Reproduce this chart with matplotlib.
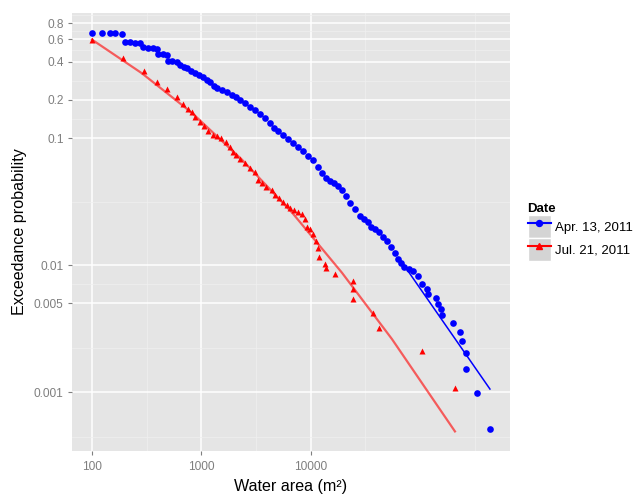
import matplotlib
matplotlib.use("Agg")
import matplotlib.pyplot as plt
from matplotlib.legend_handler import HandlerLine2D
from matplotlib.patches import Rectangle
from matplotlib.lines import Line2D

plt.rcParams["font.family"] = ["Liberation Sans", "DejaVu Sans"]

## -- data (water area in m2, exceedance probability)
apr_area = [100, 123.5, 146, 162, 188, 200, 223, 247, 275, 293, 325, 362, 393, 402, 446,
            486, 496, 540, 600, 639, 695, 740, 805, 876, 953, 1036, 1127, 1201, 1307, 1392,
            1547, 1719, 1910, 2078, 2260, 2511, 2790, 3100, 3444, 3827, 4252, 4626, 5032, 5591,
            6212, 6902, 7669, 8521, 9467, 10520, 11690, 12710, 13830, 15050, 16370, 17810,
            19370, 21070, 22930, 25480, 28310, 30800, 33500, 35690, 38830, 42240, 45950, 50000,
            54400, 59180, 63040, 67140, 71540, 79470, 86460, 96070, 104500, 116100, 118600,
            140400, 146400, 156000, 159400, 200900, 232700, 242700, 264100, 264100, 333000, 437800]
apr_prob = [0.676, 0.676, 0.676, 0.676, 0.664, 0.574, 0.574, 0.564, 0.564, 0.524, 0.515, 0.515,
            0.505, 0.461, 0.458, 0.453, 0.406, 0.406, 0.399, 0.378, 0.364, 0.358, 0.338, 0.326,
            0.315, 0.303, 0.287, 0.277, 0.258, 0.248, 0.240, 0.231, 0.219, 0.211, 0.200, 0.189,
            0.176, 0.166, 0.155, 0.144, 0.131, 0.120, 0.1136, 0.1056, 0.0982, 0.0913, 0.0849,
            0.0789, 0.0721, 0.0670, 0.0590, 0.0529, 0.0483, 0.0457, 0.0441, 0.0417, 0.0388,
            0.0348, 0.0306, 0.0275, 0.0246, 0.0229, 0.0217, 0.0201, 0.0194, 0.0181, 0.0168,
            0.0156, 0.0140, 0.01256, 0.01125, 0.01047, 0.00973, 0.00938, 0.00905, 0.00826,
            0.00714, 0.00652, 0.00595, 0.00553, 0.00496, 0.00453, 0.00406, 0.00351, 0.00298,
            0.00253, 0.00203, 0.00152, 0.00098, 0.00051]

jul_area = [100, 192, 299, 393, 486, 600, 680, 756, 822, 876, 973, 1058, 1152, 1279, 1392, 1514,
            1683, 1831, 1950, 2078, 2260, 2511, 2790, 3100, 3302, 3592, 3907, 4436, 4724, 5139,
            5591, 6083, 6479, 7048, 7669, 8343, 8887, 9268, 9874, 10520, 11200, 11690, 11940,
            13540, 13830, 16720, 24430, 24430, 24430, 37230, 42240, 104500, 209500]
jul_prob = [0.595, 0.429, 0.338, 0.277, 0.244, 0.211, 0.1857, 0.1695, 0.1605, 0.1466, 0.1338,
            0.1244, 0.1136, 0.1056, 0.1037, 0.100, 0.0930, 0.0849, 0.0775, 0.0734, 0.0682,
            0.0634, 0.0579, 0.0538, 0.0466, 0.0441, 0.0410, 0.0394, 0.0354, 0.0335, 0.0312,
            0.0295, 0.0280, 0.0270, 0.0260, 0.0251, 0.0233, 0.0201, 0.0194, 0.0177, 0.0156,
            0.01375, 0.01167, 0.01028, 0.00955, 0.00857, 0.00754, 0.00652, 0.00543, 0.00421,
            0.00321, 0.00211, 0.00108]

# fitted curves
apr_fit_area = [65800, 437800]
apr_fit_prob = [0.0111, 0.00106]
jul_fit_area = [100, 286, 822, 2355, 6761, 19370, 55590, 209500]
jul_fit_prob = [0.596, 0.324, 0.158, 0.0677, 0.0260, 0.00873, 0.00262, 0.000492]

labels = ["Apr. 13, 2011", "Jul. 21, 2011"]
x_breaks = [100, 1000, 10000]
x_minor = [316.2, 3162, 31623, 316228]
y_breaks = [0.001, 0.005, 0.01, 0.1, 0.2, 0.4, 0.6, 0.8]
y_break_labels = ["0.001", "0.005", "0.01", "0.1", "0.2", "0.4", "0.6", "0.8"]
y_minor = [0.000447, 0.00224, 0.00707, 0.0316, 0.1414, 0.283, 0.49, 0.693, 0.924]


class BoxedKey(HandlerLine2D):
    # ggplot-like grey key background
    def create_artists(self, legend, orig_handle, xdescent, ydescent, width, height, fontsize, trans):
        box = Rectangle((-xdescent, -ydescent), width, height, facecolor="#D4D4D4",
                        edgecolor="white", lw=1, transform=trans)
        arts = super().create_artists(legend, orig_handle, xdescent, ydescent, width, height,
                                      fontsize, trans)
        return [box] + arts


fig = plt.figure(figsize=(6.35, 4.95), dpi=100)
ax = fig.add_axes([72 / 635, 1 - 451 / 495, 438 / 635, 438 / 495])
ax.set_facecolor("#E5E5E5")
ax.set_xscale("log")
ax.set_yscale("log")

ax.plot(jul_fit_area, jul_fit_prob, color="#FF0000", alpha=0.6, lw=1.6, zorder=3)
ax.plot(jul_area, jul_prob, ls="none", marker="^", ms=5.0, color="#FF0000", mec="none", zorder=4)
ax.plot(apr_area, apr_prob, ls="none", marker="o", ms=4.8, color="#0000FF", mec="none", zorder=4)
ax.plot(apr_fit_area, apr_fit_prob, color="#0000FF", lw=1.1, zorder=5)

ax.set_xlim(65.7, 668000)
ax.set_ylim(0.000345, 0.965)
ax.set_xticks(x_breaks)
ax.set_xticklabels([str(v) for v in x_breaks])
ax.set_xticks(x_minor, minor=True)
ax.set_yticks(y_breaks)
ax.set_yticklabels(y_break_labels)
ax.set_yticks(y_minor, minor=True)
ax.xaxis.set_minor_formatter(plt.NullFormatter())
ax.yaxis.set_minor_formatter(plt.NullFormatter())

ax.grid(which="major", color="white", lw=1.1)
ax.grid(which="minor", color="#F0F0F0", lw=0.5)
ax.set_axisbelow(True)
for s in ax.spines.values():
    s.set_visible(False)
ax.tick_params(which="major", length=3, width=0.8, color="#7F7F7F", labelcolor="#7F7F7F",
               labelsize=8.6, pad=3)
ax.tick_params(axis="x", which="major", pad=4.5)
ax.tick_params(which="minor", length=0)

ax.set_xlabel("Water area (m²)", fontsize=11.6, labelpad=4)
ax.set_ylabel("Exceedance probability", fontsize=11.6, labelpad=5)

handles = [Line2D([], [], color="#0000FF", marker="o", ms=4.3, lw=1.5),
           Line2D([], [], color="#FF0000", marker="^", ms=4.8, lw=1.5)]
leg = ax.legend(handles, labels, title="Date", loc="center left", bbox_to_anchor=(1.04, 0.5),
                frameon=False, numpoints=1, handlelength=1.75, handleheight=2.3,
                handletextpad=0.3, labelspacing=0.0, fontsize=9.5, title_fontsize=9.5,
                borderpad=0, borderaxespad=0, alignment="left",
                handler_map={Line2D: BoxedKey()})
leg.get_title().set_fontweight("bold")

fig.savefig("out.png", dpi=100)
